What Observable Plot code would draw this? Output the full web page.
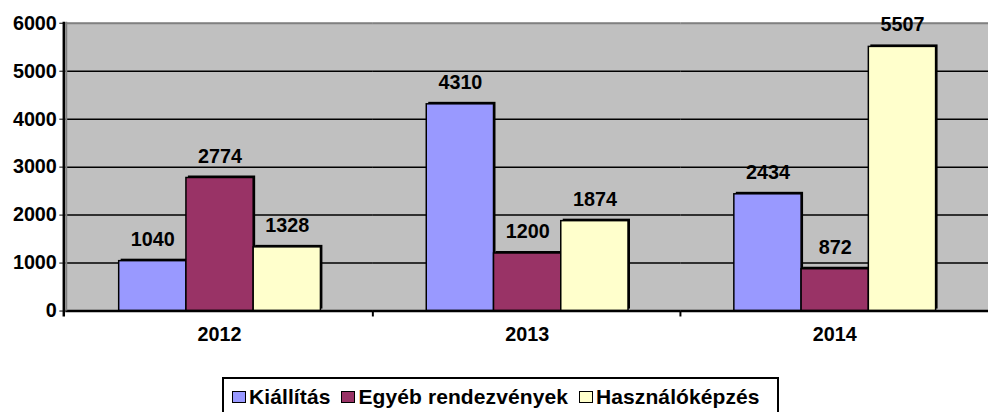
<!DOCTYPE html>
<html><head><meta charset="utf-8">
<script src="https://cdn.jsdelivr.net/npm/d3@7"></script>
<script src="https://cdn.jsdelivr.net/npm/@observablehq/plot@0.6"></script>
<style>
body{margin:0;background:#fff;overflow:hidden;font-family:"Liberation Sans",Arial,sans-serif;}
#wrap{position:relative;width:989px;height:412px;overflow:hidden;}
#chart{position:absolute;left:0;top:0;}
#legend{position:absolute;left:222px;top:377px;width:557px;height:40px;border:2px solid #000;box-sizing:border-box;display:flex;align-items:flex-start;padding-top:6px;padding-left:8px;font-weight:bold;font-size:21px;letter-spacing:0.1px;color:#000;white-space:nowrap;}
#legend .item{display:flex;align-items:center;margin-right:11px;}
#legend .sw{width:12px;height:10px;border:1.5px solid #000;margin-right:3px;box-sizing:content-box;}
</style></head><body>
<div id="wrap"><div id="chart"></div><div id="legend"></div></div>
<script>
const years = ["2012", "2013", "2014"];
const series = ["Kiállítás", "Egyéb rendezvények", "Használóképzés"];
const kiallitas = [1040, 4310, 2434];
const egyeb = [2774, 1200, 872];
const hasznalo = [1328, 1874, 5507];
const colors = ["#9999ff", "#993366", "#ffffcc"];
const yTicks = [0, 1000, 2000, 3000, 4000, 5000, 6000];

const values = [kiallitas, egyeb, hasznalo];
const data = years.flatMap((yr, i) => series.map((s, j) => ({year: yr, series: s, value: values[j][i]})));

const chart = Plot.plot({
  width: 1000, height: 355,
  marginLeft: 66, marginRight: 1, marginTop: 23, marginBottom: 41,
  style: {fontFamily: "'Liberation Sans', Arial, sans-serif", fontWeight: "bold", fontSize: "20px", color: "#000", background: "transparent", overflow: "visible"},
  fx: {domain: years, padding: 0, label: null, axis: "bottom", tickSize: 0, tickPadding: 16},
  x: {domain: series, paddingInner: 0, paddingOuter: 0.754, axis: null},
  y: {domain: [0, 6000], ticks: yTicks, tickFormat: d => String(d), label: null, tickSize: 6, tickPadding: 3},
  color: {domain: series, range: colors},
  marks: [
    Plot.gridY(yTicks.slice(1, -1), {stroke: "#000", strokeOpacity: 1, strokeWidth: 1.5}),
    Plot.ruleY([6000], {stroke: "#808080", strokeWidth: 2}),
    Plot.barY(data, {fx: "year", x: "series", y: "value", fill: "#000", dx: 2, dy: -2}),
    Plot.barY(data, {fx: "year", x: "series", y: "value", fill: "series", stroke: "#000", strokeWidth: 1.5}),
    Plot.text(data, {fx: "year", x: "series", y: "value", text: d => String(d.value), dy: -22, fontSize: 20, fontWeight: "bold", fill: "#000"}),
    Plot.ruleY([0], {stroke: "#000", strokeWidth: 2.5})
  ]
});
document.getElementById("chart").appendChild(chart);

// plot-area background, axis line, left border and category boundary ticks, from the library's scales
const fxS = chart.scale("fx"), yS = chart.scale("y");
const fx = d3.scaleBand().domain(fxS.domain).range(fxS.range).padding(0);
const y = d3.scaleLinear().domain(yS.domain).range(yS.range);
const svg = d3.select(chart);
const x0 = fx.range()[0], x1 = fx.range()[1];
const firstMark = chart.querySelector("g[aria-label]") || chart.firstChild;
svg.insert("rect", () => firstMark)
  .attr("x", x0).attr("y", y(6000)).attr("width", x1 - x0).attr("height", y(0) - y(6000))
  .attr("fill", "#c0c0c0");
svg.append("line").attr("x1", x0 + 1).attr("x2", x0 + 1).attr("y1", y(6000) - 1).attr("y2", y(0))
  .attr("stroke", "#808080").attr("stroke-width", 2);
svg.append("line").attr("x1", x0 - 1.5).attr("x2", x0 - 1.5).attr("y1", y(6000) - 1).attr("y2", y(0) + 6)
  .attr("stroke", "#000").attr("stroke-width", 2.5);
years.slice(1).forEach(yr => {
  const bx = fx(yr);
  svg.append("line").attr("x1", bx).attr("x2", bx).attr("y1", y(0)).attr("y2", y(0) + 6)
    .attr("stroke", "#000").attr("stroke-width", 2);
});

const legend = document.getElementById("legend");
series.forEach((s, i) => {
  const it = document.createElement("div"); it.className = "item";
  const sw = document.createElement("div"); sw.className = "sw"; sw.style.background = colors[i];
  const t = document.createElement("span"); t.textContent = s;
  it.appendChild(sw); it.appendChild(t); legend.appendChild(it);
});
</script></body></html>
